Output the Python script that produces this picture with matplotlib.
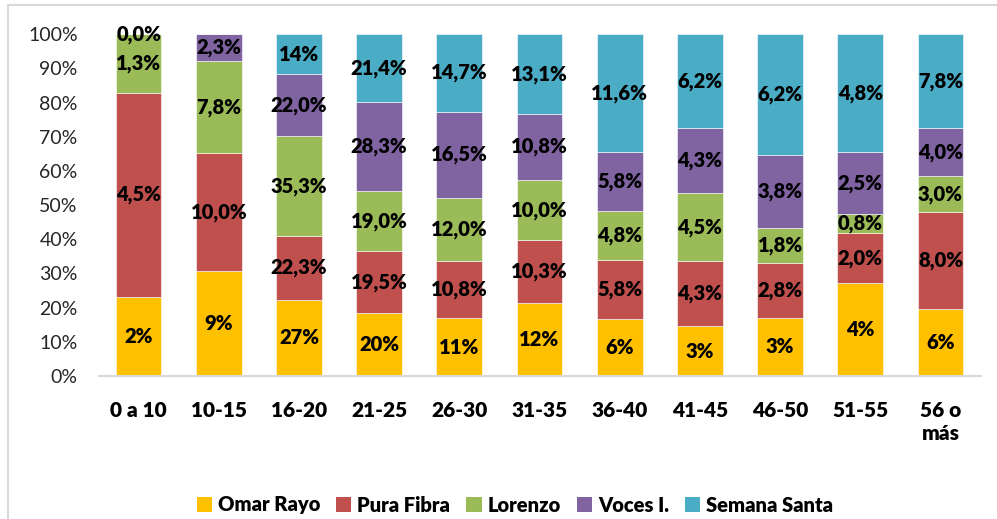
import numpy as np
import matplotlib
matplotlib.use("Agg")
import matplotlib.pyplot as plt
from matplotlib.patches import Rectangle, Patch

plt.rcParams['font.family'] = ['Lato', 'DejaVu Sans']

categories = ["0 a 10", "10-15", "16-20", "21-25", "26-30", "31-35",
              "36-40", "41-45", "46-50", "51-55", "56 o\nmás"]
series_names = ["Omar Rayo", "Pura Fibra", "Lorenzo", "Voces I.", "Semana Santa"]
omar = [1.75, 8.9, 27, 20, 11, 12, 5.6, 3.3, 3.0, 3.8, 5.6]
pura = [4.5, 10.0, 22.3, 19.5, 10.8, 10.3, 5.8, 4.3, 2.8, 2.0, 8.0]
lorenzo = [1.3, 7.8, 35.3, 19.0, 12.0, 10.0, 4.8, 4.5, 1.8, 0.8, 3.0]
voces = [0.0, 2.3, 22.0, 28.3, 16.5, 10.8, 5.8, 4.3, 3.8, 2.5, 4.0]
semana = [np.nan, np.nan, 14, 21.4, 14.7, 13.1, 11.6, 6.2, 6.2, 4.8, 7.8]
colors = ["#FFC000", "#C0504D", "#9BBB59", "#8064A2", "#4BACC6"]
label_decimals = [0, 1, 1, 1, 1]
label_overrides = {(4, 2): 0}
y_ticks = [0, 10, 20, 30, 40, 50, 60, 70, 80, 90, 100]

data = np.array([omar, pura, lorenzo, voces, semana], dtype=float)
vals = np.nan_to_num(data)
totals = vals.sum(axis=0)
pct = vals / totals * 100

W, H = 997, 519
fig = plt.figure(figsize=(W / 100, H / 100), dpi=100)
fig.patches.append(Rectangle((8 / W, -0.1), 1.2, 1 - 5 / H + 0.1, transform=fig.transFigure,
                             fill=False, edgecolor="#d9d9d9", lw=1.5, zorder=0))
ax = fig.add_axes([98.5 / W, 1 - 376 / H, (980.5 - 98.5) / W, (376 - 34.3) / H])

x = np.arange(len(categories))
bottom = np.zeros(len(categories))
for i, name in enumerate(series_names):
    ax.bar(x, pct[i], 0.57, bottom=bottom, color=colors[i], label=name,
           edgecolor="white", linewidth=0.4, zorder=2)
    for j in range(len(categories)):
        if np.isnan(data[i, j]):
            continue
        d = label_overrides.get((i, j), label_decimals[i])
        txt = f"{data[i, j]:.{d}f}".replace(".", ",") + "%"
        ax.text(x[j], bottom[j] + pct[i, j] / 2, txt, ha="center", va="center",
                fontsize=14.5, fontweight="heavy", color="black", zorder=3)
    bottom += pct[i]

ax.set_xlim(-0.5, len(categories) - 0.5)
ax.set_ylim(0, 100)
ax.set_yticks(y_ticks)
ax.set_yticklabels([f"{t}%" for t in y_ticks], fontsize=14, color="#262626")
ax.set_xticks(x)
ax.set_xticklabels(categories, fontsize=15, fontweight="heavy", linespacing=1.25)
ax.tick_params(axis="y", length=0, pad=15)
ax.tick_params(axis="x", length=0, pad=18)
for s in ["top", "right", "left"]:
    ax.spines[s].set_visible(False)
ax.spines["bottom"].set_color("#d9d9d9")
ax.spines["bottom"].set_linewidth(1.5)

handles = [Patch(facecolor=c, edgecolor="none") for c in colors]
fig.legend(handles, series_names, loc="center", bbox_to_anchor=(515 / W, 1 - 505 / H),
           ncol=5, frameon=False, handlelength=0.75, handleheight=0.75,
           handletextpad=0.3, columnspacing=0.8,
           prop={"size": 14.5, "weight": "heavy"})

fig.savefig("out.png", dpi=100)
